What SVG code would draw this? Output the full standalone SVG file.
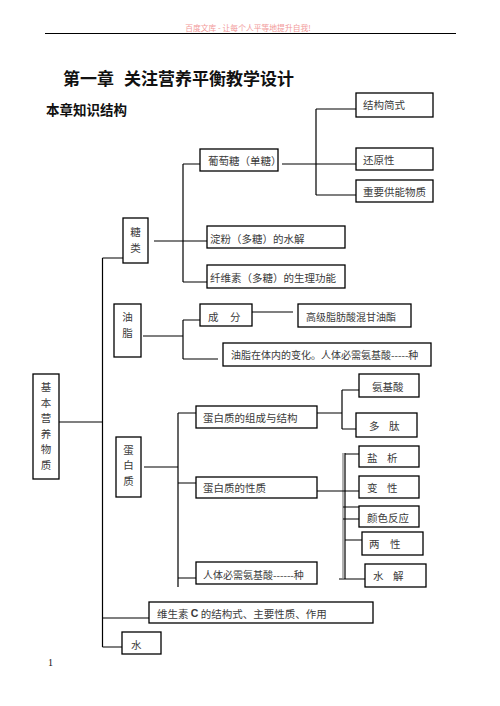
<svg xmlns="http://www.w3.org/2000/svg" width="500" height="706" viewBox="0 0 500 706">
<style>
.b{fill:#fff;stroke:#000;stroke-width:1.3}
.t{font-family:"Noto Sans CJK SC","Noto Sans",sans-serif;font-size:10.5px;fill:#3a3a3a;dominant-baseline:central}
.c{stroke:#000;stroke-width:1.2;fill:none}
.h{font-family:"Noto Sans CJK SC",sans-serif;font-size:17px;font-weight:bold;fill:#111}
</style>
<rect width="500" height="706" fill="#fff"/>
<text x="248" y="31" text-anchor="middle" style="font-family:'Noto Sans CJK SC',serif;font-size:7.8px;fill:#f29a9a">百度文库 - 让每个人平等地提升自我!</text>
<line x1="45" y1="33.5" x2="456" y2="33.5" stroke="#000" stroke-width="1"/>
<text class="h" x="63" y="85">第一章</text>
<text class="h" x="124" y="85">关注营养平衡教学设计</text>
<text x="46" y="115" style="font-family:'Noto Sans CJK SC',sans-serif;font-size:13.5px;font-weight:bold;fill:#111">本章知识结构</text>
<text x="48" y="666" style="font-family:'Liberation Serif',serif;font-size:10px;fill:#111">1</text>

<g id="connectors">
<path class="c" d="M102.5 258V647M102.5 258H123M59 422H102.5M102.5 618H149M102.5 647H122"/>
<path class="c" d="M154 241H207M183 164V282M183 164H200M183 282H207"/>
<path class="c" d="M282 164H356M316 109V195M316 109H356M316 195H356"/>
<path class="c" d="M143 336H183M183 320V359M183 320H200M183 359H218M252 312H293"/>
<path class="c" d="M144 467H178M178 413V587M178 413H196M178 483H196M178 578H196"/>
<path class="c" d="M317 413H342M342 390V429M342 390H359M342 429H356"/>
<line x1="343" y1="453" x2="343" y2="578" stroke="#888" stroke-width="1.3"/>
<path class="c" d="M345 453V579M345 454H359M317 491H359M343 507H359M343 519H359M345 540H362M339 579H365"/>
</g>

<g id="n-jiben"><rect class="b" x="33" y="374" width="26" height="105"/>
<text class="t" x="46" y="386" text-anchor="middle">基</text><text class="t" x="46" y="402" text-anchor="middle">本</text><text class="t" x="46" y="417" text-anchor="middle">营</text><text class="t" x="46" y="433" text-anchor="middle">养</text><text class="t" x="46" y="448" text-anchor="middle">物</text><text class="t" x="46" y="464" text-anchor="middle">质</text></g>

<g id="n-tanglei"><rect class="b" x="123" y="218" width="25" height="45"/>
<text class="t" x="135.5" y="231" text-anchor="middle">糖</text><text class="t" x="135.5" y="247" text-anchor="middle">类</text></g>
<g id="n-putaotang"><rect class="b" x="200" y="149" width="78" height="22"/><text class="t" x="208" y="160">葡萄糖（单糖）</text></g>
<g id="n-jiegou"><rect class="b" x="356" y="93" width="77" height="24"/><text class="t" x="363" y="104">结构简式</text></g>
<g id="n-huanyuan"><rect class="b" x="356" y="148" width="77" height="22"/><text class="t" x="363" y="159">还原性</text></g>
<g id="n-gongneng"><rect class="b" x="356" y="180" width="77" height="22"/><text class="t" x="363" y="191">重要供能物质</text></g>
<g id="n-dianfen"><rect class="b" x="207" y="226" width="138" height="22"/><text class="t" x="210" y="238">淀粉（多糖）的水解</text></g>
<g id="n-xianwei"><rect class="b" x="207" y="265" width="138" height="23"/><text class="t" x="210" y="277">纤维素（多糖）的生理功能</text></g>

<g id="n-youzhi"><rect class="b" x="114" y="304" width="27" height="53"/>
<text class="t" x="127.5" y="316" text-anchor="middle">油</text><text class="t" x="127.5" y="332" text-anchor="middle">脂</text></g>
<g id="n-chengfen"><rect class="b" x="200" y="304" width="52" height="22"/><text class="t" x="208" y="316">成</text><text class="t" x="230" y="316">分</text></g>
<g id="n-gaoji"><rect class="b" x="298" y="304" width="113" height="23"/><text class="t" x="306" y="316" style="font-size:10px">高级脂肪酸混甘油酯</text></g>
<g id="n-bianhua"><rect class="b" x="223" y="343" width="208" height="23"/><text class="t" x="231" y="354" style="font-size:10px">油脂在体内的变化。人体必需氨基酸-----种</text></g>

<g id="n-danbaizhi"><rect class="b" x="116" y="437" width="25" height="60"/>
<text class="t" x="128.5" y="449" text-anchor="middle">蛋</text><text class="t" x="128.5" y="464" text-anchor="middle">白</text><text class="t" x="128.5" y="480" text-anchor="middle">质</text></g>
<g id="n-zucheng"><rect class="b" x="196" y="406" width="121" height="22"/><text class="t" x="203" y="417">蛋白质的组成与结构</text></g>
<g id="n-anjisuan"><rect class="b" x="359" y="374" width="60" height="23"/><text class="t" x="372" y="386">氨基酸</text></g>
<g id="n-duotai"><rect class="b" x="356" y="413" width="61" height="24"/><text class="t" x="369" y="425">多</text><text class="t" x="389" y="425">肽</text></g>
<g id="n-xingzhi"><rect class="b" x="196" y="477" width="121" height="21"/><text class="t" x="203" y="487">蛋白质的性质</text></g>
<g id="n-biixu"><rect class="b" x="196" y="562" width="121" height="22"/><text class="t" x="203" y="574" style="font-size:10px">人体必需氨基酸------种</text></g>
<g id="n-yanxi"><rect class="b" x="359" y="446" width="60" height="21"/><text class="t" x="367" y="457">盐</text><text class="t" x="387" y="457">析</text></g>
<g id="n-bianxing"><rect class="b" x="359" y="476" width="60" height="22"/><text class="t" x="367" y="487">变</text><text class="t" x="387" y="487">性</text></g>
<g id="n-yanse"><rect class="b" x="359" y="506" width="60" height="21"/><text class="t" x="367" y="517">颜色反应</text></g>
<g id="n-liangxing"><rect class="b" x="362" y="532" width="61" height="23"/><text class="t" x="369" y="543">两</text><text class="t" x="390" y="543">性</text></g>
<g id="n-shuijie"><rect class="b" x="365" y="564" width="61" height="23"/><text class="t" x="373" y="575">水</text><text class="t" x="393" y="575">解</text></g>

<g id="n-weishengsu"><rect class="b" x="149" y="602" width="224" height="21"/><text class="t" x="157" y="613">维生素 <tspan style="font-family:'Liberation Sans',sans-serif;font-weight:bold">C</tspan> 的结构式、主要性质、作用</text></g>
<g id="n-shui"><rect class="b" x="122" y="632" width="39" height="22"/><text class="t" x="131" y="644">水</text></g>
</svg>
